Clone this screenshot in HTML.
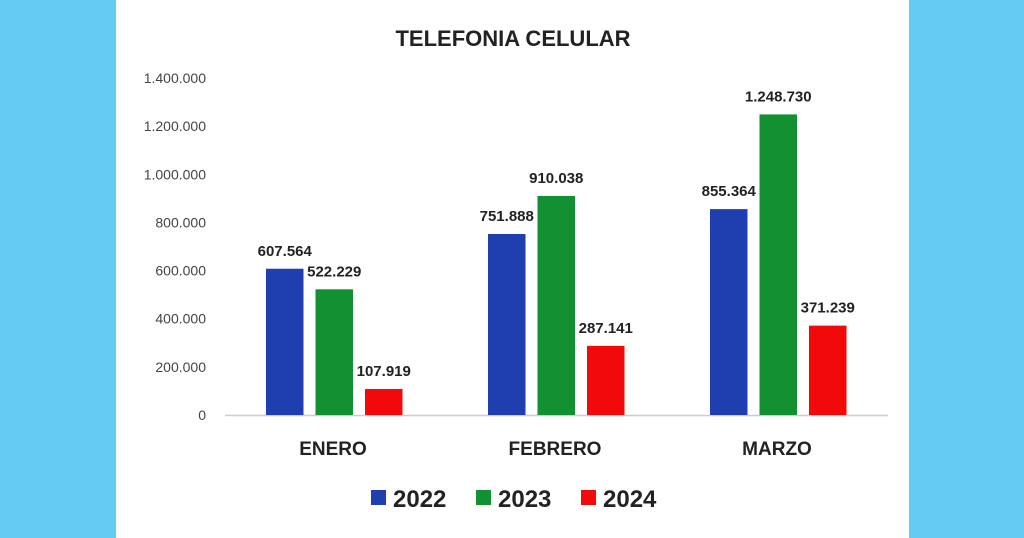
<!DOCTYPE html>
<html><head><meta charset="utf-8"><style>
body{margin:0;width:1024px;height:538px;background:#66cbf2;overflow:hidden;font-family:"Liberation Sans",sans-serif}
#panel{position:absolute;left:116px;top:0;width:793px;height:538px;background:#fff}
svg{position:absolute;left:0;top:0}
</style></head><body>
<div id="panel"></div>
<svg id="chart" width="1024" height="538">
<text x="513" y="46" text-anchor="middle" font-size="22" font-weight="bold" fill="#222">TELEFONIA CELULAR</text>
</svg>
<script>
const categories=["ENERO","FEBRERO","MARZO"];
const years=["2022","2023","2024"];
const s2022=[607564,751888,855364];
const s2023=[522229,910038,1248730];
const s2024=[107919,287141,371239];
const yTicks=[0,200000,400000,600000,800000,1000000,1200000,1400000];
const colors=["#1f3fb0","#129032","#f20a0a"];
const series=[s2022,s2023,s2024];
const ns="http://www.w3.org/2000/svg";
const svg=document.getElementById("chart");
const y0=415,yTop=78,yMax=1400000;
const y=v=>y0-(v/yMax)*(y0-yTop);
const cx=i=>333+i*222;
const fmt=v=>v.toLocaleString("de-DE");
function mk(t,a,txt){const e=document.createElementNS(ns,t);for(const k in a)e.setAttribute(k,a[k]);if(txt!=null)e.textContent=txt;svg.appendChild(e);return e;}
yTicks.forEach(t=>{const e=mk("text",{x:206,y:y(t)+5,"text-anchor":"end","font-size":"14",fill:"#444"},t===0?"0":fmt(t));

});
const ax=mk("line",{x1:225,x2:888,y1:y0+0.5,y2:y0+0.5,stroke:"#ccc","stroke-width":1.5});


categories.forEach((c,i)=>{
 const l=mk("text",{x:cx(i),y:455,"text-anchor":"middle","font-size":"19","font-weight":"bold",fill:"#222"},c);
 
 
 series.forEach((s,j)=>{
  const bx=cx(i)-67+j*49.5, w=37.5;
  const r=mk("rect",{x:bx,y:y(s[i]),width:w,height:y0-y(s[i]),fill:colors[j]});
  
  
  const t=mk("text",{x:bx+w/2,y:y(s[i])-13,"text-anchor":"middle","font-size":"15","font-weight":"bold",fill:"#222"},fmt(s[i]));
  
  
 });
});
years.forEach((yr,j)=>{
 const lx=371+j*105;
 const r=mk("rect",{x:lx,y:490,width:15,height:15,fill:colors[j]});
 
 
 const t=mk("text",{x:lx+22,y:507,"font-size":"24","font-weight":"bold",fill:"#222"},yr);
 
 
});
</script>
</body></html>
